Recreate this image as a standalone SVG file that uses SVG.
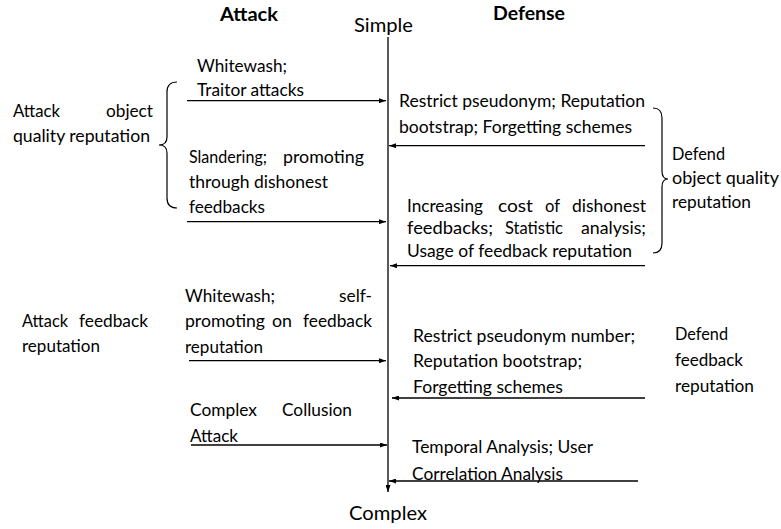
<svg xmlns="http://www.w3.org/2000/svg" width="781" height="529" viewBox="0 0 781 529">
<style>
text{font-family:Lato,"Liberation Sans",sans-serif;font-size:17.5px;fill:#000}
.h{font-weight:bold;font-size:19px}
.big{font-size:19.5px}
.ln{stroke:#000;stroke-width:1.3;fill:none}
.br{stroke:#000;stroke-width:1.2;fill:none}
</style>
<defs>
<marker id="ah" markerUnits="userSpaceOnUse" markerWidth="7" markerHeight="5" refX="7" refY="2.5" orient="auto">
<path d="M0,0 L7,2.5 L0,5 z" fill="#000"/>
</marker>
</defs>
<rect width="781" height="529" fill="#fff"/>
<g id="headers">
<text class="h" x="220" y="21" textLength="58" lengthAdjust="spacingAndGlyphs">Attack</text>
<text class="h" x="493" y="20" textLength="72" lengthAdjust="spacingAndGlyphs">Defense</text>
<text class="big" x="354" y="32" textLength="59" lengthAdjust="spacingAndGlyphs">Simple</text>
<text class="big" x="349" y="520" textLength="78" lengthAdjust="spacingAndGlyphs">Complex</text>
</g>
<g id="connectors">
<line class="ln" x1="388" y1="37" x2="388" y2="492" stroke-width="1.6" marker-end="url(#ah)"/>
<line class="ln" x1="187" y1="100.7" x2="386" y2="100.7" marker-end="url(#ah)"/>
<line class="ln" x1="187" y1="221.7" x2="386" y2="221.7" marker-end="url(#ah)"/>
<line class="ln" x1="189" y1="360.7" x2="386" y2="360.7" marker-end="url(#ah)"/>
<line class="ln" x1="191" y1="445" x2="387" y2="445" marker-end="url(#ah)"/>
<line class="ln" x1="645" y1="145.7" x2="389" y2="145.7" marker-end="url(#ah)"/>
<line class="ln" x1="645" y1="265.7" x2="390" y2="265.7" marker-end="url(#ah)"/>
<line class="ln" x1="645" y1="398" x2="392" y2="398" marker-end="url(#ah)"/>
<line class="ln" x1="638" y1="481" x2="389" y2="481" stroke="#3a3a3a" stroke-width="1.8" marker-end="url(#ah)"/>
</g>
<g id="attack-object">
<text x="13" y="117" textLength="47" lengthAdjust="spacingAndGlyphs">Attack</text>
<text x="106" y="117" textLength="47" lengthAdjust="spacingAndGlyphs">object</text>
<text x="13" y="142" textLength="137" lengthAdjust="spacingAndGlyphs">quality reputation</text>
<path class="br" d="M177,82 Q167,82 167,92 L167,137 Q167,145 159,145 Q167,145 167,153 L167,198 Q167,208 177,208"/>
</g>
<g id="whitewash-traitor">
<text x="197" y="72" textLength="90" lengthAdjust="spacingAndGlyphs">Whitewash;</text>
<text x="197" y="96" textLength="107" lengthAdjust="spacingAndGlyphs">Traitor attacks</text>
</g>
<g id="slandering">
<text x="189" y="163" textLength="78" lengthAdjust="spacingAndGlyphs">Slandering;</text>
<text x="283" y="163" textLength="81" lengthAdjust="spacingAndGlyphs">promoting</text>
<text x="189" y="188" textLength="139" lengthAdjust="spacingAndGlyphs">through dishonest</text>
<text x="189" y="213" textLength="76" lengthAdjust="spacingAndGlyphs">feedbacks</text>
</g>
<g id="attack-feedback">
<text x="22" y="327" textLength="46" lengthAdjust="spacingAndGlyphs">Attack</text>
<text x="79" y="327" textLength="69" lengthAdjust="spacingAndGlyphs">feedback</text>
<text x="22" y="352" textLength="78" lengthAdjust="spacingAndGlyphs">reputation</text>
</g>
<g id="whitewash-self">
<text x="185" y="302" textLength="90" lengthAdjust="spacingAndGlyphs">Whitewash;</text>
<text x="339" y="302" textLength="33" lengthAdjust="spacingAndGlyphs">self-</text>
<text x="185" y="327" textLength="80" lengthAdjust="spacingAndGlyphs">promoting</text>
<text x="272" y="327" textLength="20" lengthAdjust="spacingAndGlyphs">on</text>
<text x="303" y="327" textLength="69" lengthAdjust="spacingAndGlyphs">feedback</text>
<text x="185" y="352.7" textLength="78" lengthAdjust="spacingAndGlyphs">reputation</text>
</g>
<g id="collusion">
<text x="190" y="416" textLength="67" lengthAdjust="spacingAndGlyphs">Complex</text>
<text x="282" y="416" textLength="70" lengthAdjust="spacingAndGlyphs">Collusion</text>
<text x="190" y="441.5" textLength="48" lengthAdjust="spacingAndGlyphs">Attack</text>
</g>
<g id="restrict-pseudonym">
<text x="399" y="106.7" textLength="246" lengthAdjust="spacingAndGlyphs">Restrict pseudonym; Reputation</text>
<text x="399" y="133" textLength="233" lengthAdjust="spacingAndGlyphs">bootstrap; Forgetting schemes</text>
</g>
<g id="increasing-cost">
<text x="407" y="211.5" textLength="76" lengthAdjust="spacingAndGlyphs">Increasing</text>
<text x="498" y="211.5" textLength="35" lengthAdjust="spacingAndGlyphs">cost</text>
<text x="545" y="211.5" textLength="15" lengthAdjust="spacingAndGlyphs">of</text>
<text x="572" y="211.5" textLength="74" lengthAdjust="spacingAndGlyphs">dishonest</text>
<text x="407" y="234" textLength="86" lengthAdjust="spacingAndGlyphs">feedbacks;</text>
<text x="505" y="234" textLength="58" lengthAdjust="spacingAndGlyphs">Statistic</text>
<text x="581" y="234" textLength="65" lengthAdjust="spacingAndGlyphs">analysis;</text>
<text x="407" y="256.7" textLength="225" lengthAdjust="spacingAndGlyphs">Usage of feedback reputation</text>
</g>
<g id="defend-object">
<path class="br" d="M653,108 Q662,108 662,118 L662,171 Q662,179 668,179 Q662,179 662,187 L662,243 Q662,253 653,253"/>
<text x="672" y="160" textLength="53" lengthAdjust="spacingAndGlyphs">Defend</text>
<text x="672" y="184" textLength="107" lengthAdjust="spacingAndGlyphs">object quality</text>
<text x="672" y="208" textLength="79" lengthAdjust="spacingAndGlyphs">reputation</text>
</g>
<g id="restrict-number">
<text x="413" y="341.7" textLength="222" lengthAdjust="spacingAndGlyphs">Restrict pseudonym number;</text>
<text x="413" y="366.7" textLength="169" lengthAdjust="spacingAndGlyphs">Reputation bootstrap;</text>
<text x="413" y="393" textLength="150" lengthAdjust="spacingAndGlyphs">Forgetting schemes</text>
</g>
<g id="defend-feedback">
<text x="675" y="340" textLength="53" lengthAdjust="spacingAndGlyphs">Defend</text>
<text x="675" y="366" textLength="68" lengthAdjust="spacingAndGlyphs">feedback</text>
<text x="675" y="392" textLength="79" lengthAdjust="spacingAndGlyphs">reputation</text>
</g>
<g id="temporal">
<text x="412" y="453" textLength="181" lengthAdjust="spacingAndGlyphs">Temporal Analysis; User</text>
<text x="412" y="480" textLength="151" lengthAdjust="spacingAndGlyphs">Correlation Analysis</text>
</g>
</svg>
